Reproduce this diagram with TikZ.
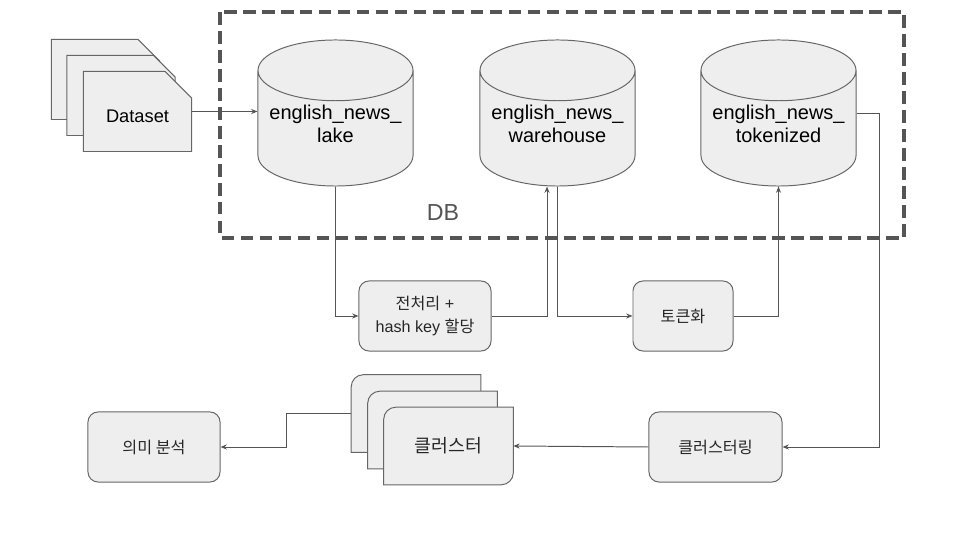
\documentclass[tikz,border=0pt]{standalone}
\usepackage{fontspec}
\setmainfont{Liberation Sans}
\newfontfamily\kr{Noto Sans CJK KR}
\usetikzlibrary{shapes}
\usetikzlibrary{positioning}
\usetikzlibrary{arrows.meta}
\usetikzlibrary{calc}
\pgfdeclarelayer{background}
\pgfsetlayers{background,main}
\definecolor{boxfill}{HTML}{EEEEEE}
\definecolor{boxline}{HTML}{666666}
\definecolor{arrline}{HTML}{555555}
\newcommand{\dbdepth}{\rule[-6.5pt]{0pt}{0pt}}
\tikzset{
    mynoded/.style = {chamfered rectangle, chamfered rectangle corners=north east, chamfered rectangle xsep=0.3cm, chamfered rectangle ysep=0.375cm, draw=boxline, fill=boxfill, line width=0.7pt, minimum width=2.7cm, minimum height=2cm, inner sep=0pt, font=\fontsize{13}{15}\selectfont},
    mynodedb/.style = {cylinder, shape border rotate=90, aspect=0.46, anchor=shape center, draw=boxline, fill=boxfill, line width=0.7pt, minimum width=3.875cm, minimum height=3.65cm, inner sep=0pt, align=center, font=\fontsize{14.2}{15.8}\selectfont},
    mynodeb/.style = {rectangle, rounded corners=0.25cm, draw=boxline, fill=boxfill, line width=0.7pt, minimum height=1.75cm, inner sep=0pt, align=center, text=black!85, font=\fontsize{11.5}{16.5}\selectfont},
    mynodec/.style = {rectangle, minimum width=3.225cm, minimum height=1.925cm, inner sep=0pt, text=black!85, font=\fontsize{13}{15}\selectfont},
    cardline/.style = {draw=boxline, fill=boxfill, line width=0.7pt},
    edgen/.style = {-{Stealth[length=4.5pt,width=3.6pt]}, line width=0.7pt, arrline},
    edgegd/.style = {line width=2.5pt, arrline, dash pattern=on 9pt off 4.5pt}, % db frame
}

\begin{document}
\begin{tikzpicture}[x=0.025cm, y=0.025cm]
  \useasboundingbox (0,0) rectangle (960,540);
  % dataset pile
  \node[mynoded] (dsa) at (105.5,460.5) {\phantom{Dataset}};
  \node[mynoded] (dsb) at (121,444.5) {\phantom{Dataset}};
  \node[mynoded] (dsc) at (137.5,428.5) {\rule{0pt}{16pt}Dataset};
  % db
  \draw[edgegd] (220,528) rectangle (904,302);
  \node[text=arrline, font=\fontsize{16.5}{18}\selectfont] (dbl) at (443,327) {DB};
  \node[mynodedb] (lake) at (335.5,427) {english\_news\_\\lake\dbdepth};
  \node[mynodedb] (ware) at (557.5,427) {english\_news\_\\warehouse\dbdepth};
  \node[mynodedb] (tokd) at (778.5,427) {english\_news\_\\tokenized\dbdepth};
  % steps
  \node[mynodeb, minimum width=3.3cm] (prep) at (425,224) {{\kr 전처리} +\\hash key {\kr 할당}};
  \node[mynodeb, minimum width=2.5cm] (tokz) at (683,224) {\kr 토큰화};
  \node[mynodeb, minimum width=3.325cm] (clst) at (715.5,93) {\kr 클러스터링};
  \node[mynodeb, minimum width=3.3cm] (sem) at (154,93) {\kr 의미 분석};
  % cluster cards
  \node[mynodec] (cla) at (416,126.5) {};
  \node[mynodec] (clb) at (432.5,110) {};
  \node[mynodec] (clc) at (448.5,94) {\kr 클러스터};
  \begin{pgfonlayer}{background}
    \foreach \c in {cla,clb,clc}
      \filldraw[cardline] (\c.south west) -- ([yshift=-0.3cm]\c.north west)
        arc[start angle=180, end angle=90, radius=0.3cm] -- (\c.north east)
        -- ([yshift=0.3cm]\c.south east) arc[start angle=0, end angle=-90, radius=0.3cm] -- cycle;
  \end{pgfonlayer}
  % flow
  \draw[edgen] (dsc.east) -- (dsc.east -| lake.west);
  \draw[edgen] (lake.south) |- (prep.west);
  \draw[edgen] (prep.east) -| ($(ware.south)+(-10.5,0)$);
  \draw[edgen] (ware.south) |- (tokz.west);
  \draw[edgen] (tokz.east) -| (tokd.south);
  \draw[edgen] (tokd.shape center -| tokd.east) -- ++(23,0) |- (clst.east);
  \draw[edgen] (clst.west) -- (clc.east);
  \draw[edgen] (cla.west) -- ++(-65,0) |- (sem.east);
\end{tikzpicture}
\end{document}
